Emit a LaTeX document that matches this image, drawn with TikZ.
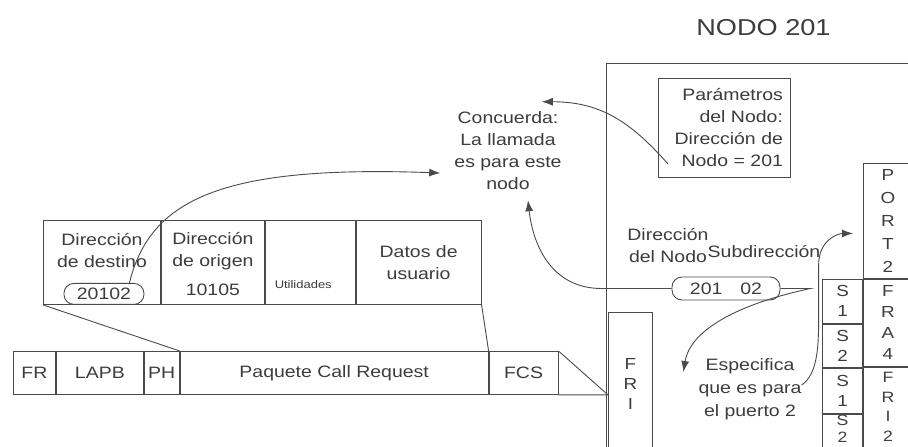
\documentclass[tikz,border=0pt]{standalone}
\usepackage{fontspec}
\setmainfont[FakeStretch=1.18]{Liberation Sans}
\usetikzlibrary{arrows.meta,positioning,calc}
\definecolor{ScanInk}{HTML}{3C3C3C}
\definecolor{ScanLine}{HTML}{4A4A4A}

\begin{document}
\begin{tikzpicture}[x=1pt,y=-1pt,
 cell/.style={draw=ScanLine,line width=0.9pt,inner sep=0pt,align=center,
  text=ScanInk,font=\fontsize{16.5}{22}\selectfont},
 lbl/.style={inner sep=0pt,align=center,text=ScanInk,
  font=\fontsize{16.5}{22}\selectfont},
 tag/.style={cell,rounded corners=10pt},
 vcell/.style={cell,font=\fontsize{16}{20}\selectfont},
 flow/.style={-{Latex[length=11pt,width=8pt]},line width=0.9pt,draw=ScanLine}]
\useasboundingbox (0,0) rectangle (908,447);

% paquete X.25 (arriba)
\node[cell,minimum width=117,minimum height=84,anchor=north west] (dest) at (43,220) {};
\node[cell,minimum width=103,minimum height=84,right=0pt of dest] (orig) {};
\node[cell,minimum width=90,minimum height=84,right=0pt of orig] (util) {};
\node[cell,minimum width=125,minimum height=84,right=0pt of util] (datos) {Datos de\\usuario};
\node[lbl] (destlbl) at ([yshift=-31pt]dest.north) {Dirección\\de destino};
\node[tag,minimum width=80,minimum height=21] (destnum) at ([xshift=2pt,yshift=11pt]dest.south) {20102};
\node[lbl] (origlbl) at ([yshift=-31pt]orig.north) {Dirección\\de origen};
\node[lbl] (orignum) at ([yshift=15pt]orig.south) {10105};
\node[lbl,font=\fontsize{11}{13}\selectfont] (utillbl) at ([xshift=-7pt,yshift=-22pt]util.center) {Utilidades};

% trama Frame Relay (abajo)
\node[cell,minimum width=42,minimum height=43,anchor=north west] (fr) at (13,351) {FR};
\node[cell,minimum width=87,minimum height=43,right=0pt of fr] (lapb) {LAPB};
\node[cell,minimum width=35,minimum height=43,right=0pt of lapb] (ph) {PH};
\node[cell,minimum width=308,minimum height=43,right=0pt of ph] (paq) {Paquete Call Request};
\node[cell,minimum width=69,minimum height=43,right=0pt of paq] (fcs) {FCS};
\draw[draw=ScanLine,line width=0.9pt] (dest.south west) -- (paq.north west);
\draw[draw=ScanLine,line width=0.9pt] (datos.south east) -- (fcs.north west);

% nodo 201
\node[cell,minimum width=306,minimum height=400,anchor=north west] (nodo) at (606,63) {};
\node[lbl,font=\fontsize{23}{28}\selectfont] (titulo) at ([xshift=4pt,yshift=35pt]nodo.north) {NODO 201};
\node[cell,minimum width=132,minimum height=99,text width=117,align=right,anchor=north west] (param) at (658,78)
 {Parámetros\\del Nodo:\\Dirección de\\Nodo = 201};
\node[vcell,minimum width=44,minimum height=144,anchor=north west] (fri) at (608,312) {};
\node[lbl,font=\fontsize{16}{20}\selectfont] (frilbl) at ([yshift=-72pt]fri.north) {F\\R\\I};
\draw[draw=ScanLine,line width=0.9pt] (fcs.north east) -- (fri.west |- fcs.south east) -- (fcs.south east);

\node[vcell,minimum width=49,minimum height=115,anchor=north west,font=\fontsize{16}{23}\selectfont] (port) at (863,163) {P\\O\\R\\T\\2};
\node[vcell,minimum width=40,minimum height=44,anchor=north east] (sa) at (port.south west) {S\\1};
\node[vcell,minimum width=40,minimum height=43,below=0pt of sa] (sb) {S\\2};
\node[vcell,minimum width=40,minimum height=45,below=0pt of sb] (sc) {S\\1};
\node[vcell,minimum width=40,minimum height=42,below=0pt of sc] (sd) {};
\node[lbl,font=\fontsize{15}{17}\selectfont] (sdlbl) at ([yshift=-15pt]sd.north) {S\\2};
\node[vcell,minimum width=49,minimum height=87,anchor=north west,font=\fontsize{16}{21}\selectfont] (fra) at (sa.north east) {F\\R\\A\\4};
\node[vcell,minimum width=49,minimum height=95,below=0pt of fra] (fri2) {};
\node[lbl,font=\fontsize{15}{19.5}\selectfont] (fri2lbl) at ([yshift=-40pt]fri2.north) {F\\R\\I\\2};

\node[lbl] (concuerda) at (508,151) {Concuerda:\\La llamada\\es para este\\nodo};
\node[lbl] (dirnodo) at (668,246) {Dirección\\del Nodo};
\node[lbl] (subdir) at (764,252) {Subdirección};
\node[tag,minimum width=108,minimum height=23] (dirnum) at (726,288.5) {201\hspace{18pt}02};
\node[lbl,font=\fontsize{16.5}{23}\selectfont] (especifica) at (750,389) {Especifica\\que es para\\el puerto 2};

% flechas
\draw[flow] ([xshift=-15pt]destnum.north east) .. controls (150,200) and (220,165) .. ($(concuerda.west)+(-14,22)$);
\draw[flow] ($(param.west)+(10,36)$) .. controls +(-38,-43) and +(58,0) .. ($(concuerda.north east)+(-20,-10)$);
\draw[flow] (dirnum.west) -- ++(-70,0) .. controls +(-50,0) and +(5,45) .. ($(concuerda.south)+(20,10)$);
\draw[flow] (dirnum.east) -- ++(30,0) .. controls +(-70,15) and +(7,-43) .. ($(especifica.west)+(-15,-17)$);
\draw[flow] ($(especifica.east)+(0,-4)$) .. controls +(15,-10) and +(0,30) .. ++(17,-65)
 -- ++(0,-55) .. controls +(0,-25) and +(-15,0) .. ($(port.west)+(-10,12.5)$);
\end{tikzpicture}
\end{document}
